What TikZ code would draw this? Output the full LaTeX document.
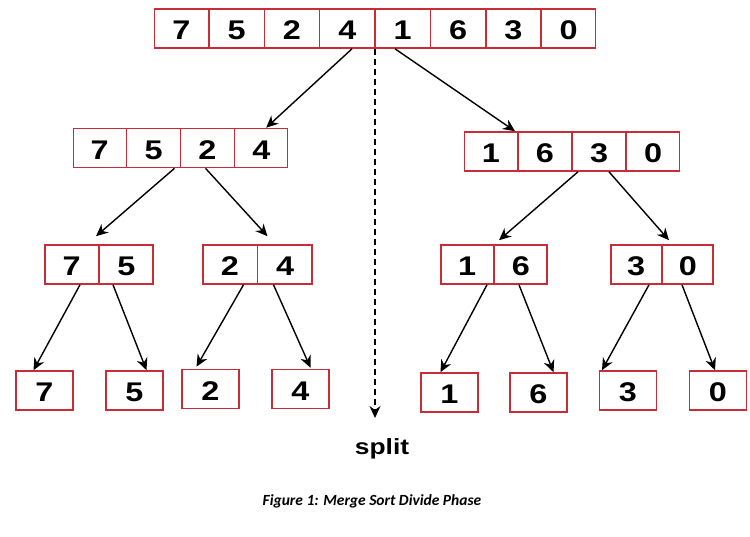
\documentclass[tikz,border=0pt]{standalone}
\usepackage{fontspec}
\usepackage{xcolor}
\usepackage{tikz}
\usetikzlibrary{arrows.meta,shapes.multipart}
\newfontfamily\digitfont[FakeStretch=1.2]{Liberation Sans}
\newfontfamily\capfont{Carlito}
\definecolor{boxred}{RGB}{200,45,55}
\newcommand{\val}[2][53pt]{\makebox[#1]{\rule[-8.5pt]{0pt}{39pt}#2}}
\tikzset{
  sorttree/.style={x=1pt,y=-1pt},
  array/.style={rectangle split,rectangle split horizontal,draw=boxred,
    line width=1.6pt,inner sep=0pt,font=\digitfont\bfseries\fontsize{27}{30}\selectfont},
  full array/.style={array,rectangle split parts=8},
  half array/.style={array,rectangle split parts=4},
  pair/.style={array,rectangle split parts=2},
  single/.style={rectangle,draw=boxred,line width=1.6pt,inner sep=0pt,
    font=\digitfont\bfseries\fontsize{27}{30}\selectfont},
  divide/.style={->,>={Stealth[length=12pt,width=11pt]},line width=1.4pt},
  split line/.style={divide,dash pattern=on 6pt off 4pt},
  split label/.style={font=\digitfont\bfseries\fontsize{22}{26}\selectfont},
  caption/.style={font=\capfont\bfseries\itshape\fontsize{15.5}{18}\selectfont}
}

\begin{document}
\begin{tikzpicture}[sorttree]
  \useasboundingbox (0,0) rectangle (750,536);
  \node[full array] (full) at (375,28.5) {\val[53.75pt]{7}\nodepart{two}\val[53.75pt]{5}\nodepart{three}\val[53.75pt]{2}\nodepart{four}\val[53.75pt]{4}\nodepart{five}\val[53.75pt]{1}\nodepart{six}\val[53.75pt]{6}\nodepart{seven}\val[53.75pt]{3}\nodepart{eight}\val[53.75pt]{0}};
  \node[half array] (lhalf) at (180.5,148) {\val[52.25pt]{7}\nodepart{two}\val[52.25pt]{5}\nodepart{three}\val[52.25pt]{2}\nodepart{four}\val[52.25pt]{4}};
  \node[half array] (rhalf) at (572,151.5) {\val[52.5pt]{1}\nodepart{two}\val[52.5pt]{6}\nodepart{three}\val[52.5pt]{3}\nodepart{four}\val[52.5pt]{0}};
  \node[pair] (p75) at (99,264.5) {\val{7}\nodepart{two}\val{5}};
  \node[pair] (p24) at (257.5,264.5) {\val[53.5pt]{2}\nodepart{two}\val[53.5pt]{4}};
  \node[pair] (p16) at (494,264.5) {\val[52pt]{1}\nodepart{two}\val[52pt]{6}};
  \node[pair] (p30) at (662,264.5) {\val[50pt]{3}\nodepart{two}\val[50pt]{0}};
  \node[single] (s7) at (44.5,390.5) {\val[57pt]{7}};
  \node[single] (s5) at (134.5,390.5) {\val[57pt]{5}};
  \node[single] (s2) at (210.5,389) {\val[57pt]{2}};
  \node[single] (s4) at (300.5,389) {\val[57pt]{4}};
  \node[single] (s1) at (449.5,392.5) {\val[57pt]{1}};
  \node[single] (s6) at (538.5,392.5) {\val[57pt]{6}};
  \node[single] (s3) at (628,390.5) {\val[57pt]{3}};
  \node[single] (s0) at (718,390.5) {\val[57pt]{0}};
  \coordinate (splitend) at (375,418);
  \node[split label] (splitlbl) at (382,449) {split};
  \node[caption] (cap) at (372,501) {Figure 1: Merge Sort Divide Phase};
  \path[divide]
  ([xshift=-23pt]full.south) edge ([xshift=-22pt]lhalf.north east)
  ([xshift=20pt]full.south) edge ([xshift=-57pt]rhalf.north)
  ([xshift=-6pt]lhalf.south) edge ([xshift=-3pt,yshift=8pt]p75.north)
  ([xshift=25pt]lhalf.south) edge ([xshift=10pt,yshift=8pt]p24.north)
  ([xshift=6pt]rhalf.south) edge ([xshift=5pt,yshift=4pt]p16.north)
  ([xshift=37pt]rhalf.south) edge ([xshift=7pt,yshift=4pt]p30.north)
  ([xshift=-19pt]p75.south) edge ([xshift=-11pt]s7.north)
  ([xshift=14pt]p75.south) edge ([xshift=12pt]s5.north)
  ([xshift=-14pt]p24.south) edge ([xshift=-14pt,yshift=2pt]s2.north)
  ([xshift=16pt]p24.south) edge ([xshift=10pt,yshift=1pt]s4.north)
  ([xshift=-7pt]p16.south) edge ([xshift=-9pt]s1.north)
  ([xshift=25pt]p16.south) edge ([xshift=15pt]s6.north)
  ([xshift=-13pt]p30.south) edge ([xshift=-26pt]s3.north)
  ([xshift=20pt]p30.south) edge ([xshift=-3pt]s0.north);
  \path[split line] (full.south) edge (splitend);
\end{tikzpicture}
\end{document}
